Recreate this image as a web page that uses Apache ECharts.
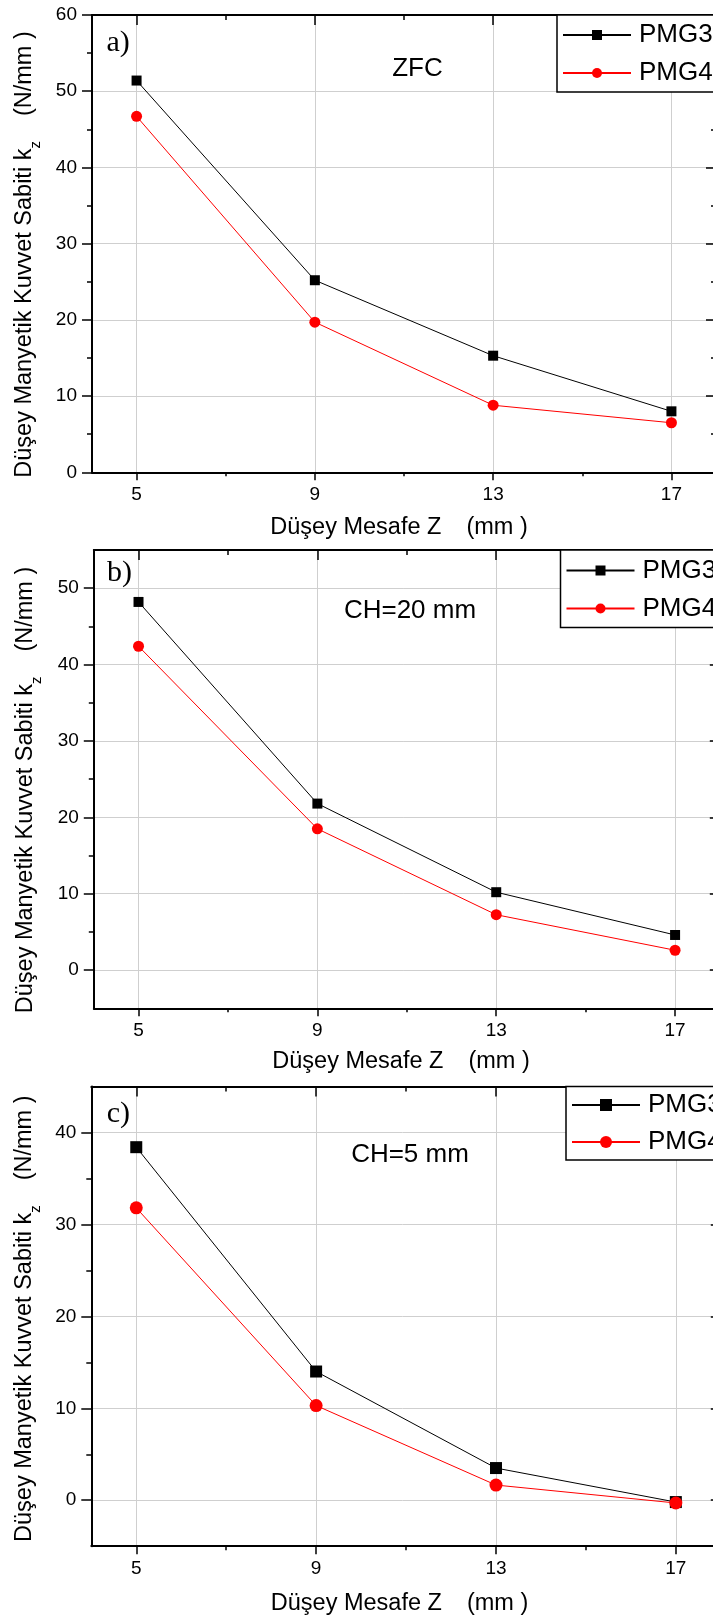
<!DOCTYPE html>
<html>
<head>
<meta charset="utf-8">
<script src="https://cdn.jsdelivr.net/npm/echarts@6/dist/echarts.min.js"></script>
<style>html,body{margin:0;padding:0;background:#fff}#chart{width:713px;height:1623px}</style>
</head>
<body>
<div id="chart"></div>
<script>
// ---------- data ----------
const zValues = [5, 9, 13, 17];              // Düşey Mesafe Z (mm)
const xTickValues = [5, 9, 13, 17];
const xMinorTickValues = [7, 11, 15];
const seriesNames = ['PMG3', 'PMG4'];
const panelLetters = ['a)', 'b)', 'c)'];
const panelNotes = ['ZFC', 'CH=20 mm', 'CH=5 mm'];

const pmg3ZFC = [51.4, 25.2, 15.3, 8.0];
const pmg4ZFC = [46.7, 19.7, 8.8, 6.5];
const pmg3CH20 = [48.2, 21.8, 10.2, 4.6];
const pmg4CH20 = [42.4, 18.5, 7.25, 2.6];
const pmg3CH5 = [38.4, 14.0, 3.5, -0.2];
const pmg4CH5 = [31.8, 10.3, 1.65, -0.3];

const yTicksA = [0, 10, 20, 30, 40, 50, 60];
const yMinorA = [5, 15, 25, 35, 45, 55];
const yTicksB = [0, 10, 20, 30, 40, 50];
const yMinorB = [5, 15, 25, 35, 45];
const yTicksC = [0, 10, 20, 30, 40];
const yMinorC = [5, 15, 25, 35];

const xTitle = ['Düşey Mesafe Z', '(mm )'];
const yTitle = ['Düşey Manyetik Kuvvet Sabiti k', 'z', '(N/mm )'];

// ---------- layout ----------
const FONT = '"Liberation Sans", Arial, sans-serif';
const SERIF = '"Liberation Serif", "Times New Roman", serif';
const panels = [
  { left: 92, top: 15, width: 624, height: 457.3, ymin: 0, ymax: 60, yTicks: yTicksA, yMinor: yMinorA,
    s3: pmg3ZFC, s4: pmg4ZFC, sym: 10, legend: { left: 557, top: 15, pad: [7, 8, 6, 5], gap: 12, ih: 12.5 },
    letter: [106.5, 43], note: [417.5, 69], xt: [399, 528], yt: [25, 254.5] },
  { left: 93.8, top: 550, width: 626, height: 458.3, ymin: -5, ymax: 55, yTicks: yTicksB, yMinor: yMinorB,
    s3: pmg3CH20, s4: pmg4CH20, sym: 10, legend: { left: 560.5, top: 550, pad: [7.5, 8, 6, 5], gap: 12, ih: 12.5 },
    letter: [107, 573], note: [410, 611], xt: [401, 1062], yt: [26, 790] },
  { left: 91.3, top: 1086.5, width: 629.5, height: 459.7, ymin: -5, ymax: 45, yTicks: yTicksC, yMinor: yMinorC,
    s3: pmg3CH5, s4: pmg4CH5, sym: 12, legend: { left: 566, top: 1086.5, pad: [5.5, 8, 5, 5], gap: 11, ih: 15 },
    letter: [106.7, 1114], note: [410, 1155], xt: [399.5, 1604], yt: [25, 1318.7] }
];

const mctx = document.createElement('canvas').getContext('2d');
function textW(t, size, fam) { mctx.font = size + 'px ' + (fam || FONT); return mctx.measureText(t).width; }
function titleGroup(pieces, cx, cy, rotation) {
  let total = 0;
  pieces.forEach(p => { p.w = textW(p.text, p.size); total += (p.gap || 0) + p.w; });
  let x = -total / 2;
  const children = [];
  pieces.forEach(p => {
    x += (p.gap || 0);
    children.push({ type: 'text', x: x, y: p.dy || 0,
      style: { text: p.text, fontSize: p.size, fontFamily: FONT, fill: '#000', align: 'left', verticalAlign: 'middle' } });
    x += p.w;
  });
  return { type: 'group', x: cx, y: cy, rotation: rotation, children: children };
}

const grid = [], xAxis = [], yAxis = [], series = [], legend = [], graphic = [];
const blackLine = { color: '#000', width: 2 };
const tickLine = { color: '#000', width: 1.5 };

panels.forEach((p, i) => {
  const rect = { left: p.left, top: p.top, width: p.width, height: p.height, outerBoundsMode: 'none', containLabel: false };
  grid.push(Object.assign({}, rect), Object.assign({}, rect));
  const g = 2 * i, go = 2 * i + 1;
  const xBase = { type: 'value', min: 4, max: 18 };
  const yBase = { type: 'value', min: p.ymin, max: p.ymax };
  xAxis.push(Object.assign({}, xBase, { gridIndex: g, position: 'bottom',
    axisLine: { show: true, onZero: false, lineStyle: blackLine },
    axisTick: { show: true, inside: false, length: 8, customValues: xTickValues, lineStyle: tickLine },
    axisLabel: { show: true, customValues: xTickValues, margin: 13, fontSize: 19, fontFamily: FONT, color: '#000' },
    splitLine: { show: true, lineStyle: { color: '#cfcfcf', width: 1 } } }));
  xAxis.push(Object.assign({}, xBase, { gridIndex: g, position: 'top',
    axisLine: { show: true, onZero: false, lineStyle: blackLine },
    axisTick: { show: true, inside: true, length: 10, customValues: xTickValues, lineStyle: tickLine },
    axisLabel: { show: false }, splitLine: { show: false } }));
  xAxis.push(Object.assign({}, xBase, { gridIndex: go, position: 'bottom',
    axisLine: { show: false, onZero: false },
    axisTick: { show: true, inside: false, length: 4, customValues: xMinorTickValues, lineStyle: tickLine },
    axisLabel: { show: false }, splitLine: { show: false } }));
  xAxis.push(Object.assign({}, xBase, { gridIndex: go, position: 'top',
    axisLine: { show: false, onZero: false },
    axisTick: { show: true, inside: true, length: 5, customValues: xMinorTickValues, lineStyle: tickLine },
    axisLabel: { show: false }, splitLine: { show: false } }));
  yAxis.push(Object.assign({}, yBase, { gridIndex: g, position: 'left',
    axisLine: { show: true, onZero: false, lineStyle: blackLine },
    axisTick: { show: true, inside: false, length: 10, customValues: p.yTicks, lineStyle: tickLine },
    axisLabel: { show: true, customValues: p.yTicks, margin: 15, fontSize: 19, fontFamily: FONT, color: '#000' },
    splitLine: { show: true, lineStyle: { color: '#cfcfcf', width: 1 } } }));
  yAxis.push(Object.assign({}, yBase, { gridIndex: g, position: 'right',
    axisLine: { show: true, onZero: false, lineStyle: blackLine },
    axisTick: { show: true, inside: true, length: 10, customValues: p.yTicks, lineStyle: tickLine },
    axisLabel: { show: false }, splitLine: { show: false } }));
  yAxis.push(Object.assign({}, yBase, { gridIndex: go, position: 'left',
    axisLine: { show: false, onZero: false },
    axisTick: { show: true, inside: false, length: 5, customValues: p.yMinor, lineStyle: tickLine },
    axisLabel: { show: false }, splitLine: { show: false } }));
  yAxis.push(Object.assign({}, yBase, { gridIndex: go, position: 'right',
    axisLine: { show: false, onZero: false },
    axisTick: { show: true, inside: true, length: 5, customValues: p.yMinor, lineStyle: tickLine },
    axisLabel: { show: false }, splitLine: { show: false } }));

  const xi = 4 * i, yi = 4 * i;
  series.push({ type: 'line', name: seriesNames[0], xAxisIndex: xi, yAxisIndex: yi,
    data: zValues.map((z, k) => [z, p.s3[k]]), symbol: 'rect', symbolSize: p.sym,
    lineStyle: { color: '#000', width: 1 }, itemStyle: { color: '#000' }, z: 3 });
  series.push({ type: 'line', name: seriesNames[1], xAxisIndex: xi, yAxisIndex: yi,
    data: zValues.map((z, k) => [z, p.s4[k]]), symbol: 'circle', symbolSize: p.sym + 1,
    lineStyle: { color: '#ff0000', width: 1 }, itemStyle: { color: '#ff0000' }, z: 4 });

  legend.push({ data: seriesNames, orient: 'vertical', left: p.legend.left, top: p.legend.top,
    itemWidth: 68, itemHeight: p.legend.ih, itemGap: p.legend.gap, padding: p.legend.pad,
    borderColor: '#000', borderWidth: 1.5, borderRadius: 0, backgroundColor: '#fff', selectedMode: false, z: 10,
    textStyle: { fontSize: 26, fontFamily: FONT, color: '#000', lineHeight: 26, padding: [0, 0, 0, 3] } });

  graphic.push({ type: 'text', x: p.letter[0], y: p.letter[1], z: 20,
    style: { text: panelLetters[i], fontSize: 30, fontFamily: SERIF, fill: '#000', align: 'left', verticalAlign: 'middle' } });
  graphic.push({ type: 'text', x: p.note[0], y: p.note[1], z: 20,
    style: { text: panelNotes[i], fontSize: 26, fontFamily: FONT, fill: '#000', align: 'center', verticalAlign: 'middle' } });
  graphic.push(titleGroup([{ text: xTitle[0], size: 23.5 }, { text: xTitle[1], size: 23.5, gap: 25 }], p.xt[0], p.xt[1], 0));
  graphic.push(titleGroup([{ text: yTitle[0], size: 23.5 }, { text: yTitle[1], size: 15, dy: 11 },
    { text: yTitle[2], size: 23.5, gap: 25 }], p.yt[0], p.yt[1], Math.PI / 2));
});

const chart = echarts.init(document.getElementById('chart'), null, { renderer: 'canvas' });
chart.setOption({
  animation: false,
  backgroundColor: '#fff',
  grid, xAxis, yAxis, series, legend, graphic
});
</script>
</body>
</html>
